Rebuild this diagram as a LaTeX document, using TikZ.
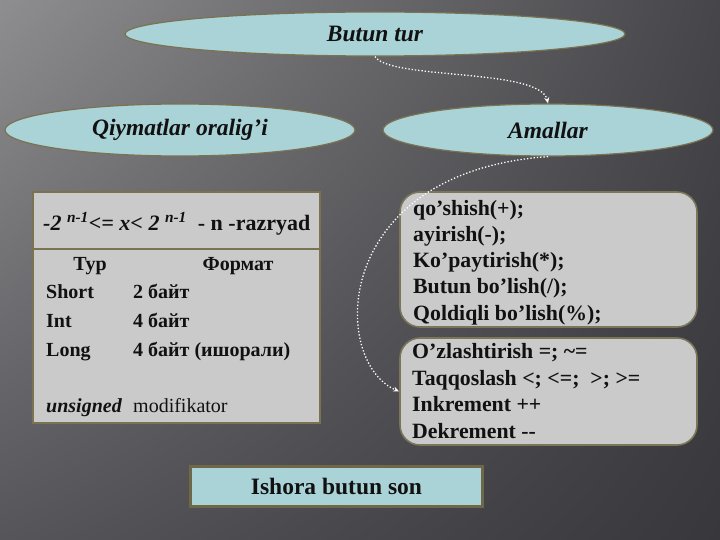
\documentclass[tikz,border=0pt]{standalone}
\usepackage{fontspec}
\setmainfont{Liberation Serif}
\usetikzlibrary{shapes.geometric,arrows.meta,shadings}
\definecolor{bgA}{HTML}{8E8E90}
\definecolor{bgB}{HTML}{46464A}
\definecolor{bgC}{HTML}{55555A}
\definecolor{bgD}{HTML}{38383C}
\definecolor{tealfill}{HTML}{A9D3D7}
\definecolor{boxfill}{HTML}{CACACA}
\definecolor{olive}{HTML}{7A7250}
\definecolor{txt}{HTML}{111111}
\tikzset{
  oval/.style={ellipse, draw=olive, line width=1.2pt, fill=tealfill, inner sep=0pt,
    font=\fontsize{23.5}{27}\selectfont\bfseries\itshape, text=txt},
  graybox/.style={draw=olive, line width=2pt, fill=boxfill, inner sep=0pt},
  roundbox/.style={draw=olive!80!gray, line width=1.6pt, fill=boxfill, rounded corners=20pt, inner sep=0pt},
  signbox/.style={draw=olive!90!black, line width=3pt, fill=tealfill, inner sep=0pt,
    font=\fontsize{23.5}{27}\selectfont\bfseries, text=txt},
  opline/.style={anchor=base west, inner sep=0pt, font=\fontsize{21.8}{26}\selectfont\bfseries, text=txt},
  tabline/.style={anchor=base west, inner sep=0pt, font=\fontsize{20}{23}\selectfont\bfseries, text=txt},
  flow/.style={draw=white, line width=1.3pt, dotted, -{Stealth[length=6pt,width=5pt]}}
}
\begin{document}
\begin{tikzpicture}[x=1pt,y=-1pt]
\useasboundingbox (0,0) rectangle (720,540);
\shade[upper left=bgA, upper right=bgB, lower left=bgC, lower right=bgD] (0,0) rectangle (720,540);

% ellipses
\node[oval, minimum width=500pt, minimum height=44pt] (tur) at (375,34) {Butun tur};
\node[oval, minimum width=350pt, minimum height=52pt] (qiy) at (180,130) {Qiymatlar oralig’i};
\node[oval, minimum width=330pt, minimum height=52pt] (amal) at (548,130) {Amallar};

% left boxes
\node[graybox, minimum width=287pt, minimum height=56pt] (range) at (176.5,220.5) {};
\node[graybox, minimum width=287pt, minimum height=174pt] (tab) at (176.5,336) {};
\node[anchor=base west, inner sep=0pt, font=\fontsize{22}{26}\selectfont\bfseries, text=txt] (rtext) at (43,230)
  {\itshape -2 \textsuperscript{n-1}<= x< 2 \textsuperscript{n-1}\upshape\ \ - n -razryad};
\node[tabline, anchor=base] (h1) at (90,270) {Тур};
\node[tabline, anchor=base] (h2) at (238,270) {Формат};
\node[tabline] (r1a) at (46,298) {Short};
\node[tabline] (r1b) at (133,298) {2 байт};
\node[tabline] (r2a) at (46,327) {Int};
\node[tabline] (r2b) at (133,327) {4 байт};
\node[tabline] (r3a) at (46,356) {Long};
\node[tabline] (r3b) at (133,356) {4 байт (ишорали)};
\node[tabline, font=\fontsize{20}{23}\selectfont\bfseries\itshape] (r4a) at (46,412) {unsigned};
\node[tabline, font=\fontsize{20}{23}\selectfont] (r4b) at (133,412) {modifikator};

% right boxes
\node[roundbox, minimum width=297pt, minimum height=135pt] (ops1) at (548.5,259.5) {};
\node[opline] (o1) at (413,215) {qo’shish(+);};
\node[opline] (o2) at (413,241.5) {ayirish(-);};
\node[opline] (o3) at (413,267.5) {Ko’paytirish(*);};
\node[opline] (o4) at (413,293.5) {Butun bo’lish(/);};
\node[opline] (o5) at (413,320) {Qoldiqli bo’lish(\%);};

\node[roundbox, minimum width=297pt, minimum height=107pt] (ops2) at (548.5,391.5) {};
\node[opline] (p1) at (412,358) {O’zlashtirish =; \textasciitilde=};
\node[opline] (p2) at (412,385) {Taqqoslash <; <=;\ \ >; >=};
\node[opline] (p3) at (412,411.5) {Inkrement ++};
\node[opline] (p4) at (412,438) {Dekrement -{}-};

% bottom
\node[signbox, minimum width=292pt, minimum height=40pt] (sign) at (336.5,486) {Ishora butun son};

% connectors
\draw[flow] (tur.south) .. controls (390,80) and (540,68) .. (amal.north);
\draw[flow] (amal.south) .. controls (330,172) and (330,362) .. (ops2.west);
\end{tikzpicture}
\end{document}
